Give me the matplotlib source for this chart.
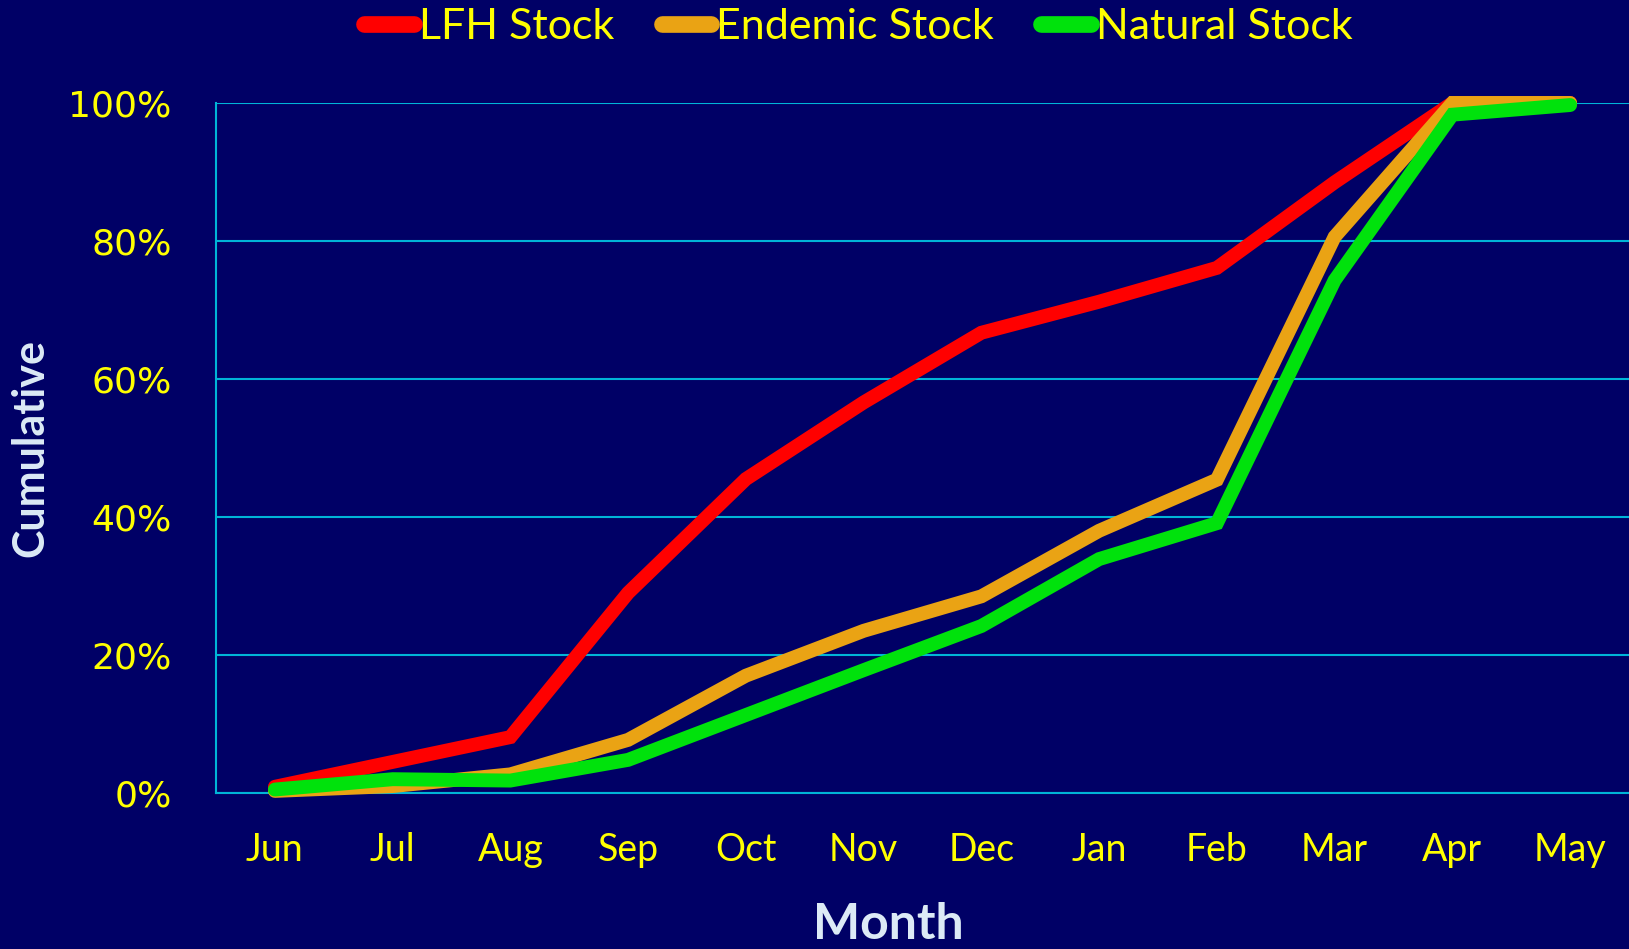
import matplotlib
matplotlib.use("Agg")
import matplotlib.pyplot as plt
from matplotlib.ticker import PercentFormatter

months = ["Jun", "Jul", "Aug", "Sep", "Oct", "Nov", "Dec", "Jan", "Feb", "Mar", "Apr", "May"]
lfh = [0.9, 4.5, 8.1, 29.0, 45.5, 56.6, 66.7, 71.2, 76.1, 88.5, 100.0, 100.0]
endemic = [0.3, 1.0, 2.7, 7.7, 17.0, 23.5, 28.5, 38.0, 45.4, 80.6, 100.0, 100.0]
natural = [0.5, 2.0, 1.8, 4.8, 11.3, 17.8, 24.2, 33.9, 39.1, 74.3, 98.3, 99.7]

series = [("LFH Stock", lfh, "#FF0000"),
          ("Endemic Stock", endemic, "#EAA314"),
          ("Natural Stock", natural, "#00E20C")]

bg = "#000066"
grid_c = "#00B4D8"

fig = plt.figure(figsize=(16.29, 9.49), dpi=100, facecolor=bg)
ax = fig.add_axes([0.1326, 0.1644, 0.8674, 0.7271])
ax.set_facecolor(bg)

x = list(range(len(months)))
for name, vals, col in series:
    ax.plot(x, [v / 100 for v in vals], color=col, lw=10, label=name,
            solid_capstyle="round", solid_joinstyle="miter", clip_on=False, zorder=3)

ax.set_xlim(-0.5, 11.5)
ax.set_ylim(0, 1)
ax.set_yticks([0, 0.2, 0.4, 0.6, 0.8, 1.0])
ax.yaxis.set_major_formatter(PercentFormatter(1.0, decimals=0))
ax.set_xticks(x)
ax.set_xticklabels(months)

ax.grid(axis="y", color=grid_c, lw=1.5, zorder=1)
ax.grid(axis="x", visible=False)
for s in ["top", "right"]:
    ax.spines[s].set_visible(False)
for s in ["left", "bottom"]:
    ax.spines[s].set_color(grid_c)
    ax.spines[s].set_linewidth(1.5)

ax.tick_params(axis="both", length=0)
ax.tick_params(axis="y", pad=32, labelcolor="#FFFF00", labelsize=26)
ax.tick_params(axis="x", pad=28, labelcolor="#FFFF00", labelsize=27)
for lab in ax.get_yticklabels():
    lab.set_fontfamily("DejaVu Sans")
for lab in ax.get_xticklabels():
    lab.set_fontfamily("Lato")

ax.set_ylabel("Cumulative", fontsize=31, fontweight="bold", color="#DCEAF6",
              fontfamily="Lato")
ax.yaxis.set_label_coords(-0.117, 0.5)
ax.set_xlabel("Month", fontsize=36, fontweight="bold", color="#DCEAF6",
              fontfamily="Lato")
ax.xaxis.set_label_coords(0.476, -0.158)

leg = fig.legend(loc="center", bbox_to_anchor=(0.527, 0.972), ncol=3,
                 frameon=False, handlelength=1.15, handletextpad=0.12,
                 columnspacing=1.1, prop={"family": "Lato", "size": 31})
for t in leg.get_texts():
    t.set_color("#FFFF00")
for h in leg.get_lines():
    h.set_linewidth(12)
    h.set_solid_capstyle("round")

fig.savefig("out.png", dpi=100, facecolor=bg)
